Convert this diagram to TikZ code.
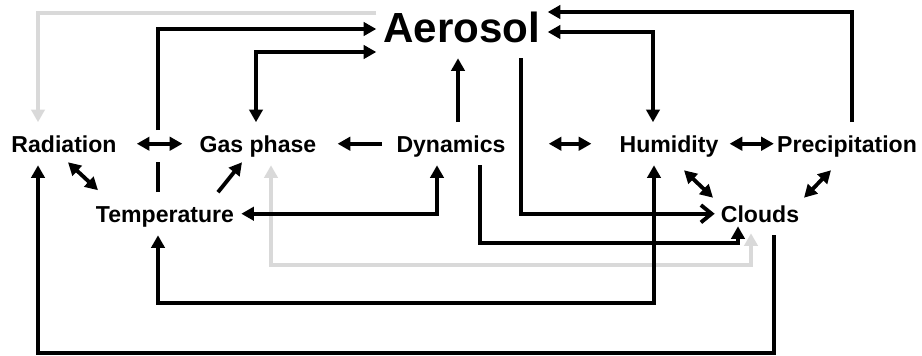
\documentclass[tikz,border=0pt]{standalone}
\usepackage{fontspec}
\setmainfont{Liberation Sans}
\usetikzlibrary{arrows.meta,calc}
\definecolor{lg}{RGB}{217,217,217}
\begin{document}
\begin{tikzpicture}[x=0.75pt,y=-0.75pt,
  lbl/.style={anchor=base,inner xsep=0pt,inner ysep=9.75pt,text height=12.4pt,text depth=0pt,font=\fontsize{17.3}{20}\selectfont\bfseries},
  big/.style={anchor=base,inner xsep=5.25pt,inner ysep=12pt,text height=22.6pt,text depth=0pt,font=\fontsize{31.6}{36}\selectfont\bfseries},
  conn/.style={line width=2.9pt,black},
  gl/.style={line width=2.9pt,lg},
  >={Triangle[length=9.5pt,width=10pt]},
  barb/.style={-{Straight Barb[length=8pt,width=13pt]}}]
\useasboundingbox (0,0) rectangle (922,355);

% nodes
\node[big] (aer) at (462,42) {Aerosol};
\node[lbl] (rad) at (64,152) {Radiation};
\node[lbl] (gas) at (258,152) {Gas phase};
\node[lbl] (dyn) at (451,152) {Dynamics};
\node[lbl] (hum) at (669,152) {Humidity};
\node[lbl] (pre) at (847,152) {Precipitation};
\node[lbl] (tem) at (165,222) {Temperature};
\node[lbl] (clo) at (760,222) {Clouds};

% light grey connectors
\draw[gl,->] (aer.west |- 0,13) -| (38,0 |- rad.north);
\draw[gl,<->] (271,0 |- gas.south) -- (271,265) -| ($(clo.south)+(-9,-2)$);

% black connectors
\draw[conn] (158,0 |- tem.north) -- (158,162);
\draw[conn,->] (158,130) |- (aer.west |- 0,29);
\draw[conn,<->] (256,0 |- gas.north) |- (aer.west |- 0,52);
\draw[conn,->] (458,0 |- dyn.north) -- (458,0 |- aer.south);
\draw[conn,barb] (521,0 |- aer.south) |- ($(clo.west)+(-6,0)$);
\draw[conn,<->] (aer.east |- 0,32) -| (653,0 |- hum.north);
\draw[conn,->] (852,0 |- pre.north) |- (aer.east |- 0,12);

\draw[conn,<->] ($(rad.east)+(20,0)$) -- ($(gas.west)+(-17,0)$);
\draw[conn,->] ($(dyn.west)+(-14,0)$) -- ($(gas.east)+(21,0)$);
\draw[conn,<->] ($(dyn.east)+(43,0)$) -- ($(hum.west)+(-28,0)$);
\draw[conn,<->] ($(hum.east)+(11,0)$) -- ($(pre.west)+(-3,0)$);

\draw[conn,<->] ($(rad.south)+(4,-3)$) -- ($(tem.north)+(-67,-2)$);
\draw[conn,->] ($(tem.north)+(53,0)$) -- ($(gas.south)+(-16,-3)$);
\draw[conn,<->] ($(tem.east)+(7,0)$) -| (437,0 |- dyn.south);
\draw[conn,->] (480,0 |- dyn.south) -- (480,243) -| ($(clo.south)+(-22,-9)$);
\draw[conn,<->] (158,0 |- tem.south) -- (158,303) -| (654,0 |- hum.south);
\draw[conn,<->] ($(hum.south)+(15,5)$) -- ($(clo.north)+(-47,5.5)$);
\draw[conn,<->] ($(pre.south)+(-16,5)$) -- ($(clo.north)+(44,5.5)$);
\draw[conn,->] (774,0 |- clo.south) -- (774,353) -| (38,0 |- rad.south);
\end{tikzpicture}
\end{document}
